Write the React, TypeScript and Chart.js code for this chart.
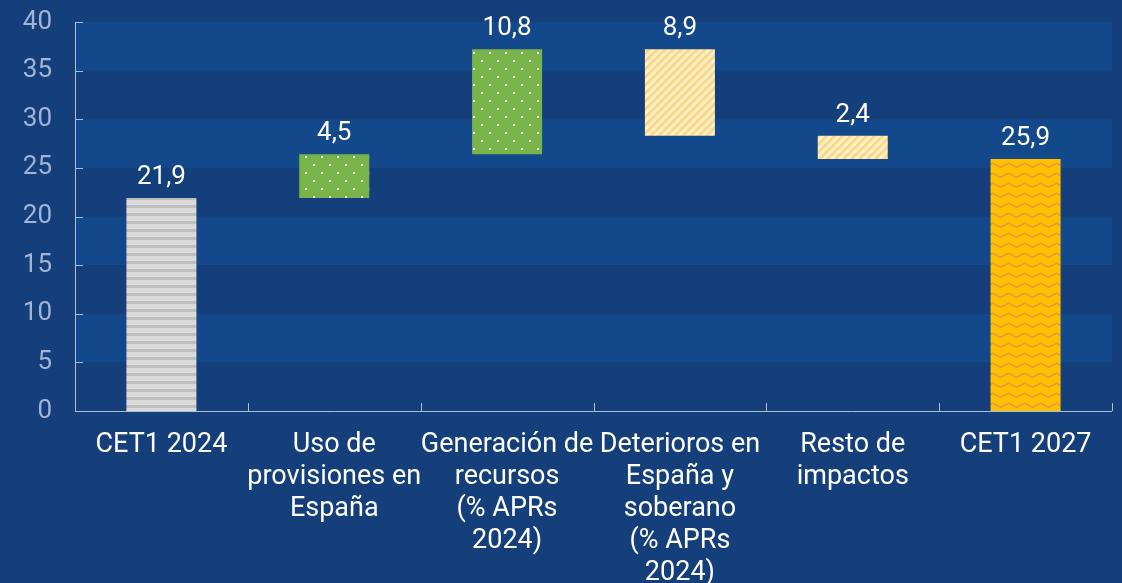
import React, { useEffect, useRef } from "react";
import { Chart, registerables } from "chart.js";

Chart.register(...registerables);

const categories: string[][] = [
  ["CET1 2024"],
  ["Uso de", "provisiones en", "España"],
  ["Generación de", "recursos", "(% APRs", "2024)"],
  ["Deterioros en", "España y", "soberano", "(% APRs", "2024)"],
  ["Resto de", "impactos"],
  ["CET1 2027"],
];
const barStarts = [0, 21.9, 26.4, 28.3, 25.9, 0];
const barEnds = [21.9, 26.4, 37.2, 37.2, 28.3, 25.9];
const valueLabels = ["21,9", "4,5", "10,8", "8,9", "2,4", "25,9"];
const yMin = 0;
const yMax = 40;
const yStep = 5;

const BG_DARK = "#143f7b";
const BG_LIGHT = "#13498b";
const AXIS = "#a9bddc";
const TICK_TEXT = "#9fb4d8";
const FONT = "Roboto";

function makePattern(w: number, h: number, draw: (c: CanvasRenderingContext2D) => void): CanvasPattern | string {
  const cv = document.createElement("canvas");
  cv.width = w;
  cv.height = h;
  const c = cv.getContext("2d")!;
  draw(c);
  const ctx = document.createElement("canvas").getContext("2d")!;
  return ctx.createPattern(cv, "repeat") || "#ccc";
}

function buildPatterns() {
  const gray = makePattern(8, 8, (c) => {
    c.fillStyle = "#dadada";
    c.fillRect(0, 0, 8, 8);
    c.fillStyle = "#bfbfbf";
    c.fillRect(0, 5, 8, 3);
  });
  const green = makePattern(16, 16, (c) => {
    c.fillStyle = "#78b449";
    c.fillRect(0, 0, 16, 16);
    c.fillStyle = "#ffffff";
    c.fillRect(1, 12, 2, 2);
    c.fillRect(9, 4, 2, 2);
  });
  const lightYellow = makePattern(8, 8, (c) => {
    c.fillStyle = "#fff0c9";
    c.fillRect(0, 0, 8, 8);
    c.fillStyle = "#ffd886";
    for (let y = 0; y < 8; y++) {
      for (let x = 0; x < 8; x++) {
        if ((x + y) % 8 < 4) c.fillRect(x, y, 1, 1);
      }
    }
  });
  const orange = makePattern(16, 10, (c) => {
    c.fillStyle = "#ffc000";
    c.fillRect(0, 0, 16, 10);
    c.fillStyle = "#ee9b2f";
    for (let x = 0; x < 16; x++) {
      const off = Math.floor(Math.abs(x - 8) / 2);
      c.fillRect(x, 2 + (4 - off), 1, 2);
    }
  });
  return [gray, green, green, lightYellow, lightYellow, orange];
}

const bandsPlugin = {
  id: "bands",
  beforeDraw(chart: any) {
    const { ctx, chartArea, scales } = chart;
    const y = scales.y;
    ctx.save();
    ctx.fillStyle = BG_DARK;
    ctx.fillRect(0, 0, chart.width, chart.height);
    for (let v = yMin; v < yMax; v += yStep) {
      const top = y.getPixelForValue(v + yStep);
      const bot = y.getPixelForValue(v);
      ctx.fillStyle = (v / yStep) % 2 === 1 ? BG_LIGHT : BG_DARK;
      ctx.fillRect(chartArea.left, top, chartArea.right - chartArea.left, bot - top);
    }
    ctx.restore();
  },
};

const axesPlugin = {
  id: "axesCustom",
  afterDatasetsDraw(chart: any) {
    const { ctx, chartArea, scales } = chart;
    const y = scales.y;
    const { left, right, top, bottom } = chartArea;
    ctx.save();
    ctx.strokeStyle = AXIS;
    ctx.lineWidth = 1;
    ctx.beginPath();
    ctx.moveTo(left + 0.5, top);
    ctx.lineTo(left + 0.5, bottom + 0.5);
    for (let v = yMin; v <= yMax; v += yStep) {
      const py = Math.round(y.getPixelForValue(v)) + 0.5;
      ctx.moveTo(left, py);
      ctx.lineTo(left + 8, py);
    }
    ctx.moveTo(left, bottom + 0.5);
    ctx.lineTo(right, bottom + 0.5);
    const n = categories.length;
    for (let i = 0; i <= n; i++) {
      const px = Math.round(left + ((right - left) * i) / n) + 0.5;
      ctx.moveTo(px, bottom);
      ctx.lineTo(px, bottom - 8);
    }
    ctx.stroke();

    const meta = chart.getDatasetMeta(0);
    ctx.fillStyle = "#ffffff";
    ctx.font = `26px ${FONT}`;
    ctx.textAlign = "center";
    ctx.textBaseline = "alphabetic";
    meta.data.forEach((bar: any, i: number) => {
      const t = Math.min(bar.y, bar.base);
      ctx.fillText(valueLabels[i], bar.x, t - 14);
    });
    ctx.restore();
  },
};

export default function App() {
  const ref = useRef<HTMLCanvasElement | null>(null);
  useEffect(() => {
    if (!ref.current) return;
    const patterns = buildPatterns();
    const chart = new Chart(ref.current, {
      type: "bar",
      data: {
        labels: categories,
        datasets: [
          {
            data: barStarts.map((s, i) => [s, barEnds[i]]) as any,
            backgroundColor: patterns as any,
            borderWidth: 0,
            categoryPercentage: 1,
            barPercentage: 0.405,
          },
        ],
      },
      options: {
        animation: false,
        responsive: false,
        devicePixelRatio: 1,
        layout: { padding: { top: 22, right: 10, left: 0, bottom: 0 } },
        plugins: { legend: { display: false }, tooltip: { enabled: false } },
        scales: {
          x: {
            grid: { display: false, drawTicks: false },
            border: { display: false },
            ticks: {
              color: "#ffffff",
              font: { family: FONT, size: 27, lineHeight: "32px" } as any,
              padding: 18,
              maxRotation: 0,
              autoSkip: false,
            },
            afterFit(scale: any) {
              scale.height = 172;
              scale.paddingLeft = 0;
              scale.paddingRight = 0;
            },
          },
          y: {
            min: yMin,
            max: yMax,
            grid: { display: false, drawTicks: false },
            border: { display: false },
            ticks: {
              stepSize: yStep,
              color: TICK_TEXT,
              font: { family: FONT, size: 26 },
              padding: 23,
            },
            afterFit(scale: any) {
              scale.width = 75;
              scale.paddingTop = 0;
              scale.paddingBottom = 0;
            },
          },
        },
      },
      plugins: [bandsPlugin, axesPlugin],
    });
    return () => chart.destroy();
  }, []);
  return (
    <div style={{ position: "fixed", left: 0, top: 0, width: 1122, height: 583, background: BG_DARK }}>
      <canvas ref={ref} width={1122} height={583} style={{ display: "block", width: 1122, height: 583 }} />
    </div>
  );
}
